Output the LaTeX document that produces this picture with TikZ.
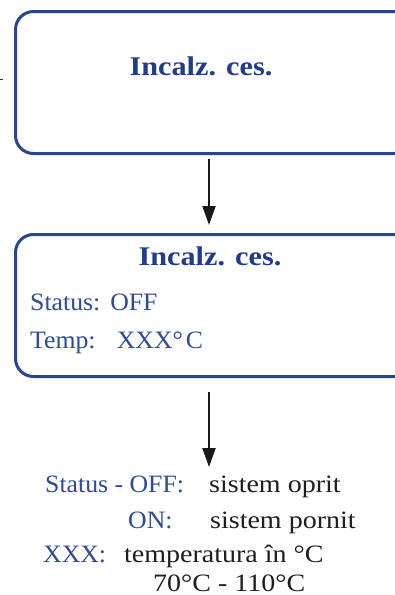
\documentclass[tikz,border=0pt]{standalone}
\usepackage{fontspec}
\setmainfont{Liberation Serif}
\newfontfamily\widefont[FakeStretch=1.12]{Liberation Serif}
\newfontfamily\midfont[FakeStretch=1.03]{Liberation Serif}
\usetikzlibrary{arrows.meta}
\definecolor{boxblue}{RGB}{40,68,146}
\definecolor{txtblue}{RGB}{46,74,152}
\definecolor{ttlblue}{RGB}{34,60,140}
\definecolor{txtblack}{RGB}{30,30,30}
\tikzset{
  panel/.style={draw=boxblue, line width=3pt, rounded corners=18pt, fill=white},
  ttl/.style={font=\widefont\fontsize{27}{30}\selectfont\bfseries, text=ttlblue, inner sep=0pt},
  bt/.style={font=\midfont\fontsize{25}{28}\selectfont, text=txtblue, inner sep=0pt, anchor=base west, text depth=0pt},
  kt/.style={font=\widefont\fontsize{25}{28}\selectfont, text=txtblack, inner sep=0pt, anchor=base west, text depth=0pt},
  arr/.style={draw=black!90, line width=2pt, -{Triangle[length=19pt,width=13pt]}}
}
\begin{document}
\begin{tikzpicture}[x=1pt,y=-1pt]
\clip (0,0) rectangle (395,595);
\fill[white] (0,0) rectangle (395,595);
% boxes
\node[panel, minimum width=397pt, minimum height=142pt, anchor=north west] (b1) at (14,10) {};
\node[panel, minimum width=397pt, minimum height=142pt, anchor=north west] (b2) at (14,233) {};
% titles
\node[ttl, anchor=base] (t1) at (201,75) {Incalz. ces.};
\node[ttl, anchor=base] (t2) at (210,265) {Incalz. ces.};
% box 2 content
\node[bt] (s1) at (30,310) {Status:\hspace{0.4em}OFF};
\node[bt] (s2) at (30,348) {Temp:\hspace{0.85em}XXX\textdegree\hspace{0.12em}C};
% stub at left
\coordinate (stubA) at (-6,79);
\coordinate (stubB) at (3,79);
\draw[black!80, line width=1pt] (stubA) -- (stubB);
% arrows
\coordinate (a1s) at (209,159);
\coordinate (a1e) at (209,225);
\coordinate (a2s) at (209,392);
\coordinate (a2e) at (209,467);
\draw[arr] (a1s) -- (a1e);
\draw[arr] (a2s) -- (a2e);
% legend
\node[bt] (l1) at (45,492) {Status - OFF:};
\node[kt] (l1b) at (209,492) {sistem oprit};
\node[bt] (l2) at (128,528) {ON:};
\node[kt] (l2b) at (210,528) {sistem pornit};
\node[bt] (l3) at (43,562) {XXX:};
\node[kt] (l3b) at (124,562) {temperatura în \textdegree C};
\node[kt] (l4) at (153,591) {70\textdegree C - 110\textdegree C};
\end{tikzpicture}
\end{document}
